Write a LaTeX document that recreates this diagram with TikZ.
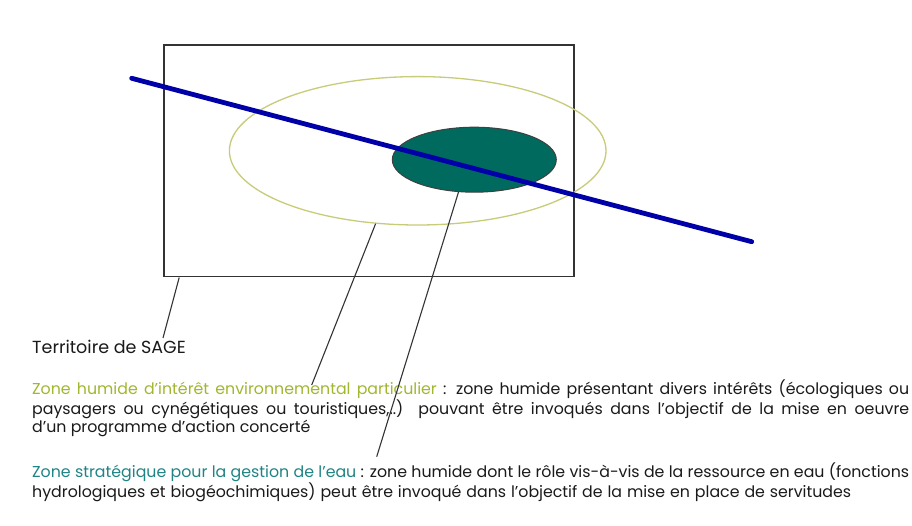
\documentclass[tikz,border=0pt]{standalone}
\usepackage{fontspec}
\setmainfont{Poppins}
\usetikzlibrary{shapes.geometric}
\definecolor{rectc}{HTML}{333333}
\definecolor{yelc}{HTML}{C8CC78}
\definecolor{tealc}{HTML}{006A5E}
\definecolor{bluec}{HTML}{0000A8}
\definecolor{yeltext}{HTML}{A0B830}
\definecolor{tealtext}{HTML}{208484}
\definecolor{textc}{HTML}{1A1A1A}
\tikzset{
  conn/.style={draw=rectc, line width=1.1pt},
  txt/.style={anchor=base west, inner sep=0pt, text=textc, font=\fontsize{15.8}{19}\selectfont},
}
\begin{document}
\begin{tikzpicture}[x=1pt,y=-1pt]
\useasboundingbox (0,0) rectangle (912,526);
\fill[white] (0,0) rectangle (912,526);
% territory rectangle
\node[draw=rectc, line width=1.8pt, minimum width=410pt, minimum height=231.7pt, inner sep=0pt, anchor=north west] (terr) at (162.7,44) {};
% wetland of particular environmental interest
\node[ellipse, draw=yelc, line width=1.3pt, minimum width=376.6pt, minimum height=148.4pt, inner sep=0pt] (zh) at (417.7,150.8) {};
% strategic zone
\node[ellipse, draw=black!75, fill=tealc, line width=1pt, minimum width=164pt, minimum height=65pt, inner sep=0pt] (zs) at (474.3,159.7) {};
% blue line
\coordinate (bl1) at (131.7,78.3);
\coordinate (bl2) at (751.7,241.7);
\draw[bluec, line width=4.8pt, line cap=round] (bl1) -- (bl2);
% texts
\node[txt, font=\fontsize{17.5}{21}\selectfont] (t0) at (32,353) {Territoire de SAGE};
\node[txt] (t1) at (32,394) {\makebox[877pt][s]{\textcolor{yeltext}{Zone humide d'intérêt environnemental particulier} : zone humide présentant divers intérêts (écologiques ou}};
\node[txt] (t2) at (32,414) {\makebox[877pt][s]{paysagers ou cynégétiques ou touristiques,..)\ \ pouvant être invoqués dans l'objectif de la mise en oeuvre}};
\node[txt] (t3) at (32,432) {d'un programme d'action concerté};
\node[txt] (t4) at (32,477) {\makebox[877pt][s]{\textcolor{tealtext}{Zone stratégique pour la gestion de l'eau} : zone humide dont le rôle vis-à-vis de la ressource en eau (fonctions}};
\node[txt] (t5) at (32,497) {\makebox[819pt][s]{hydrologiques et biogéochimiques) peut être invoqué dans l'objectif de la mise en place de servitudes}};
% connectors
\coordinate (c0) at (163,338);
\coordinate (c1) at (311.7,385);
\coordinate (c2) at (376.7,456.7);
\draw[conn] ([xshift=16.5pt]terr.south west) -- (c0);
\draw[conn] (zh.240) -- (c1);
\draw[conn] (zs.244) -- (c2);
\end{tikzpicture}
\end{document}
